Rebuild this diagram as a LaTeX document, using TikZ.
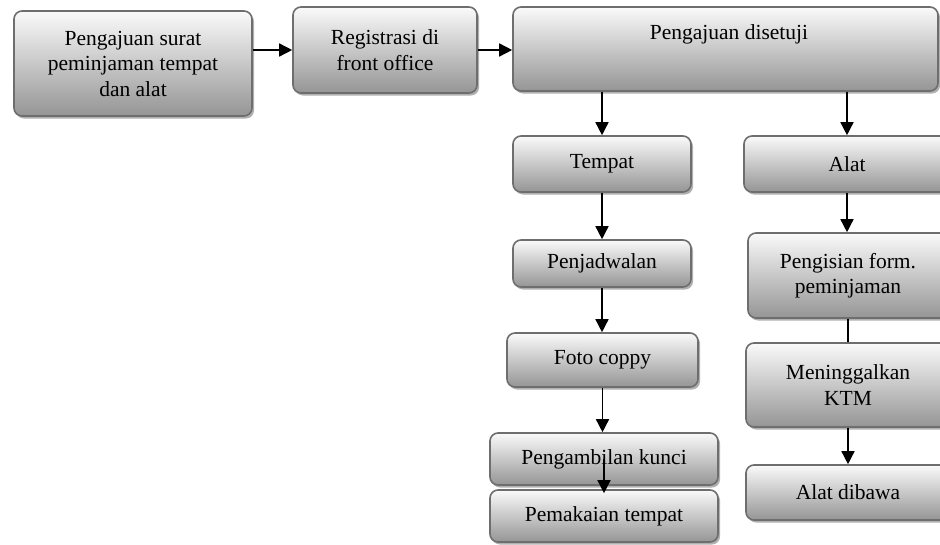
\documentclass[tikz,border=0pt]{standalone}
\usepackage{fontspec}
\setmainfont{Liberation Serif}
\usetikzlibrary{arrows.meta,shadows,calc}
\definecolor{boxtop}{HTML}{FAFAFA}
\definecolor{boxbot}{HTML}{959595}
\definecolor{boxline}{HTML}{6E6E6E}
\definecolor{shadowgray}{HTML}{A8A8A8}

\tikzset{
  stepbox/.style={draw=boxline, line width=1.6pt, rounded corners=8pt,
    top color=boxtop, bottom color=boxbot,
    drop shadow={shadow xshift=2pt, shadow yshift=-2.5pt, fill=shadowgray, opacity=0.9},
    align=center, inner sep=0pt, font=\fontsize{21.5}{25.5}\selectfont},
  boxtext/.style={align=center, inner sep=0pt, font=\fontsize{21.5}{25.5}\selectfont},
  flow/.style={-{Triangle[length=13pt,width=13pt]}, line width=1.5pt},
  link/.style={line width=1.5pt},
}

\begin{document}
\begin{tikzpicture}[x=1pt,y=-1pt]
  \fill[white] (0,0) rectangle (940,544);
  \useasboundingbox (0,0) rectangle (940,544);
  \clip (0,0) rectangle (940,544);

  % top row
  \node[stepbox, minimum width=238pt, minimum height=105pt] (b1) at (133,63.5)
    {Pengajuan surat\\peminjaman tempat\\dan alat};
  \node[stepbox, minimum width=184pt, minimum height=86pt] (b2) at (385,50)
    {Registrasi di\\front office};
  \node[stepbox, minimum width=425pt, minimum height=84pt] (b3) at (725.5,49) {};
  \node[boxtext] (b3t) at (729,34) {Pengajuan disetuji};

  % left branch: room
  \node[stepbox, minimum width=178pt, minimum height=56pt] (tempat) at (602,164) {Tempat};
  \node[stepbox, minimum width=178pt, minimum height=47pt] (jadwal) at (602,263.5) {Penjadwalan};
  \node[stepbox, minimum width=191pt, minimum height=54pt] (foto) at (602.5,360) {Foto coppy};
  \node[stepbox, minimum width=228pt, minimum height=52pt] (kunci) at (604,459) {Pengambilan kunci};
  \node[stepbox, minimum width=228pt, minimum height=52pt] (pakai) at (604,516) {Pemakaian tempat};

  % right branch: equipment
  \node[stepbox, minimum width=206pt, minimum height=56pt] (alat) at (847,164) {Alat};
  \node[stepbox, minimum width=200pt, minimum height=85pt] (isi) at (848,275.5)
    {Pengisian form.\\peminjaman};
  \node[stepbox, minimum width=204pt, minimum height=84pt] (ktm) at (848,385)
    {Meninggalkan\\KTM};
  \node[stepbox, minimum width=204pt, minimum height=55pt] (bawa) at (848,492.5) {Alat dibawa};

  % connectors
  \draw[flow] (b1.east |- b2.west) -- (b2.west);
  \draw[flow] (b2.east) -- (b2.east -| b3.west);
  \draw[flow] (b3.south -| tempat.north) -- (tempat.north);
  \draw[flow] (b3.south -| alat.north) -- (alat.north);
  \draw[flow] (tempat.south) -- (jadwal.north);
  \draw[flow] (jadwal.south) -- (jadwal.south |- foto.north);
  \draw[flow] (foto.south) -- (foto.south |- kunci.north);
  \draw[flow] (kunci.center) -- ($(pakai.north)+(0,4)$);
  \draw[flow] (alat.south) -- (alat.south |- isi.north);
  \draw[link] (isi.south) -- (isi.south |- ktm.north);
  \draw[flow] (ktm.south) -- (ktm.south |- bawa.north);
\end{tikzpicture}
\end{document}
